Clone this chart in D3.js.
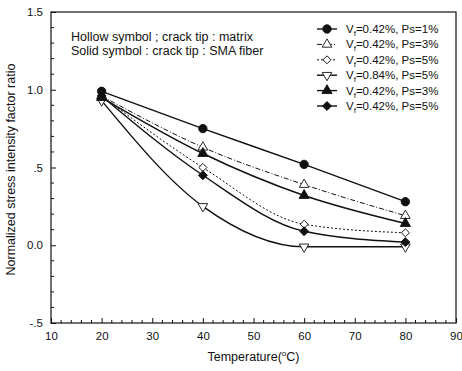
<!DOCTYPE html>
<html>
<head>
<meta charset="utf-8">
<script src="https://cdn.jsdelivr.net/npm/d3@7"></script>
<style>
  body { margin: 0; background: #fff; }
  svg text { font-family: "Liberation Sans", Arial, sans-serif; fill: #111; }
</style>
</head>
<body>
<svg id="chart" width="462" height="371"></svg>
<script>
// temperatures (°C)
var temps = [20, 40, 60, 80];

// normalized stress intensity factor ratio, one array per curve
var circleFilled = [0.99, 0.75, 0.52, 0.28];   // Vf=0.42%, Ps=1%
var triUpHollow = [0.96, 0.63, 0.39, 0.19];    // Vf=0.42%, Ps=3%
var diamondHollow = [0.96, 0.50, 0.135, 0.08]; // Vf=0.42%, Ps=5%
var triDownHollow = [0.93, 0.25, -0.01, -0.01];// Vf=0.84%, Ps=5%
var triUpFilled = [0.95, 0.59, 0.32, 0.14];    // Vf=0.42%, Ps=3%
var diamondFilled = [0.96, 0.45, 0.09, 0.02];  // Vf=0.42%, Ps=5%

var legendVf = ['0.42', '0.42', '0.42', '0.84', '0.42', '0.42'];
var legendPs = ['1', '3', '5', '5', '3', '5'];

var xTicks = [10, 20, 30, 40, 50, 60, 70, 80, 90];
var yTicks = [-0.5, 0, 0.5, 1.0, 1.5];
var yTickLabels = ['-.5', '0.0', '.5', '1.0', '1.5'];

var series = [
  { values: circleFilled, symbol: d3.symbolCircle, fill: '#111', dash: null, size: 55 },
  { values: triUpHollow, symbol: d3.symbolTriangle, fill: '#fff', dash: '5,2,1,2', size: 40 },
  { values: diamondHollow, symbol: d3.symbolSquare, fill: '#fff', dash: '2,2', size: 32, rotate: 45 },
  { values: triDownHollow, symbol: d3.symbolTriangle, fill: '#fff', dash: null, size: 40, rotate: 180 },
  { values: triUpFilled, symbol: d3.symbolTriangle, fill: '#111', dash: null, size: 45 },
  { values: diamondFilled, symbol: d3.symbolSquare, fill: '#111', dash: null, size: 40, rotate: 45 }
];

var svg = d3.select('#chart');
var margin = { top: 12, right: 6, bottom: 48, left: 51 };
var W = 462, H = 371;

var x = d3.scaleLinear().domain([10, 90]).range([margin.left, W - margin.right]);
var y = d3.scaleLinear().domain([-0.5, 1.5]).range([H - margin.bottom, margin.top]);

// frame
svg.append('rect')
  .attr('x', x(10)).attr('y', y(1.5))
  .attr('width', x(90) - x(10)).attr('height', y(-0.5) - y(1.5))
  .attr('fill', 'none').attr('stroke', '#111').attr('stroke-width', 1.2);

// bottom axis: inward ticks, minor every 2
var xAxis = d3.axisBottom(x).tickValues(xTicks).tickSize(-5).tickPadding(9).tickFormat(d3.format('d'));
var gx = svg.append('g').attr('transform', 'translate(0,' + y(-0.5) + ')').call(xAxis);
gx.select('.domain').remove();
gx.selectAll('.tick line').attr('stroke', '#111');
gx.selectAll('text').attr('font-size', 11.5).attr('fill', '#111');
svg.append('g').selectAll('line')
  .data(d3.range(10, 91, 2).filter(function(d) { return d % 10 !== 0; }))
  .join('line')
  .attr('x1', function(d) { return x(d); }).attr('x2', function(d) { return x(d); })
  .attr('y1', y(-0.5)).attr('y2', y(-0.5) - 3)
  .attr('stroke', '#111');

// left axis: inward ticks, minor every 0.1
var yAxis = d3.axisLeft(y).tickValues(yTicks).tickSize(-5).tickPadding(8)
  .tickFormat(function(d, i) { return yTickLabels[i]; });
var gy = svg.append('g').attr('transform', 'translate(' + x(10) + ',0)').call(yAxis);
gy.select('.domain').remove();
gy.selectAll('.tick line').attr('stroke', '#111');
gy.selectAll('text').attr('font-size', 11.5).attr('fill', '#111');
svg.append('g').selectAll('line')
  .data(d3.range(-5, 15).map(function(d) { return d / 10; }).filter(function(d, i) { return i % 5 !== 0; }))
  .join('line')
  .attr('x1', x(10)).attr('x2', x(10) + 3)
  .attr('y1', function(d) { return y(d); }).attr('y2', function(d) { return y(d); })
  .attr('stroke', '#111');

// axis titles
svg.append('text')
  .attr('transform', 'translate(15,' + (y(0.5) + 2) + ') rotate(-90)')
  .attr('text-anchor', 'middle').attr('font-size', 12.5)
  .text('Normalized stress intensity factor ratio');

var xt = svg.append('text')
  .attr('x', x(50)).attr('y', 361)
  .attr('text-anchor', 'middle').attr('font-size', 12.5);
xt.append('tspan').text('Temperature(');
xt.append('tspan').attr('dy', -5).attr('font-size', 8).text('o');
xt.append('tspan').attr('dy', 5).text('C)');

// annotation
svg.append('text').attr('x', 71).attr('y', 41).attr('font-size', 12.5)
  .text('Hollow symbol ; crack tip : matrix');
svg.append('text').attr('x', 71).attr('y', 55).attr('font-size', 12.5)
  .text('Solid symbol : crack tip : SMA fiber');

// curves
var line = d3.line()
  .x(function(d, i) { return x(temps[i]); })
  .y(function(d) { return y(d); })
  .curve(d3.curveMonotoneX);

function drawSymbol(g, s, cx, cy) {
  g.append('path')
    .attr('d', d3.symbol().type(s.symbol).size(s.size)())
    .attr('transform', 'translate(' + cx + ',' + cy + ')' + (s.rotate ? ' rotate(' + s.rotate + ')' : ''))
    .attr('fill', s.fill).attr('stroke', '#111').attr('stroke-width', 0.9);
}

series.forEach(function(s) {
  svg.append('path')
    .attr('d', line(s.values))
    .attr('fill', 'none').attr('stroke', '#111')
    .attr('stroke-width', s.dash ? 1 : 1.4)
    .attr('stroke-dasharray', s.dash);
});
series.forEach(function(s) {
  var g = svg.append('g');
  s.values.forEach(function(v, i) { drawSymbol(g, s, x(temps[i]), y(v)); });
});

// legend
var leg = svg.append('g');
series.forEach(function(s, i) {
  var ly = 29 + i * 15.4;
  leg.append('line')
    .attr('x1', 317).attr('x2', 337).attr('y1', ly).attr('y2', ly)
    .attr('stroke', '#111').attr('stroke-width', s.dash ? 1 : 1.4)
    .attr('stroke-dasharray', s.dash);
  drawSymbol(leg, s, 327, ly);
  var t = leg.append('text').attr('x', 346).attr('y', ly + 4).attr('font-size', 11.5);
  t.append('tspan').text('V');
  t.append('tspan').attr('dy', 3).attr('font-size', 8).text('f');
  t.append('tspan').attr('dy', -3).text('=' + legendVf[i] + '%, Ps=' + legendPs[i] + '%');
});
</script>
</body>
</html>
